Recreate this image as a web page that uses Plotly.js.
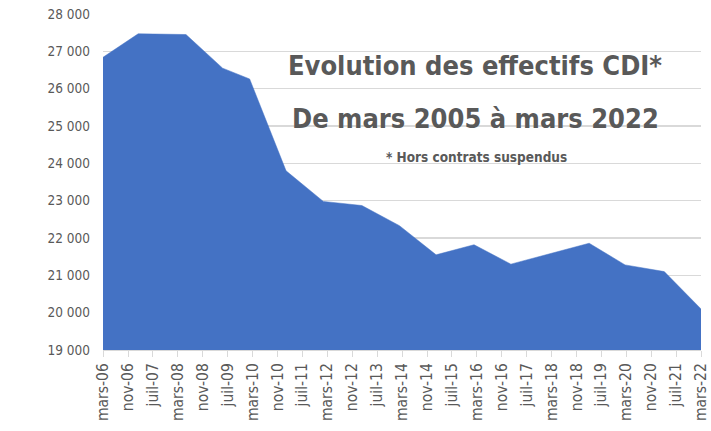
<!DOCTYPE html>
<html>
<head>
<meta charset="utf-8">
<script src="https://cdn.plot.ly/plotly-3.0.1.min.js"></script>
<style>html,body{margin:0;padding:0;background:#fff}#chart{width:711px;height:431px}</style>
</head>
<body>
<div id="chart"></div>
<script>
// Data points (dates estimated from positions on the Excel date axis)
const dates = ['2006-03-01','2007-02-08','2008-05-20','2009-05-13','2010-02-01','2011-01-23','2012-01-22','2013-02-02','2014-02-04','2015-01-28','2016-02-03','2017-01-28','2019-03-04','2020-02-18','2021-03-07','2022-03-01'];
const effectifs = [26840, 27470, 27450, 26550, 26260, 23800, 22980, 22870, 22330, 21550, 21820, 21300, 21860, 21280, 21100, 20100];

// Axis ticks
const tickDates = ['2006-03-01','2006-11-01','2007-07-01','2008-03-01','2008-11-01','2009-07-01','2010-03-01','2010-11-01','2011-07-01','2012-03-01','2012-11-01','2013-07-01','2014-03-01','2014-11-01','2015-07-01','2016-03-01','2016-11-01','2017-07-01','2018-03-01','2018-11-01','2019-07-01','2020-03-01','2020-11-01','2021-07-01','2022-03-01'];
const tickLabels = ['mars-06','nov-06','juil-07','mars-08','nov-08','juil-09','mars-10','nov-10','juil-11','mars-12','nov-12','juil-13','mars-14','nov-14','juil-15','mars-16','nov-16','juil-17','mars-18','nov-18','juil-19','mars-20','nov-20','juil-21','mars-22'];

const titleLine1 = 'Evolution des effectifs CDI*';
const titleLine2 = 'De mars 2005 à mars 2022';
const subtitle = '* Hors contrats suspendus';

const FONT = '"DejaVu Sans Condensed", "Liberation Sans Narrow", Arial, sans-serif';

const trace = {
  x: dates, y: effectifs, type: 'scatter', mode: 'lines',
  fill: 'tozeroy', fillcolor: '#4472C4',
  line: {color: '#4472C4', width: 0.5}, hoverinfo: 'x+y'
};

const layout = {
  width: 711, height: 431,
  margin: {l: 103, r: 10, t: 14, b: 81},
  paper_bgcolor: '#fff', plot_bgcolor: '#fff',
  separators: ', ',
  showlegend: false,
  font: {family: FONT, color: '#595959'},
  xaxis: {
    type: 'date', range: ['2006-03-01', '2022-03-01'],
    tickmode: 'array', tickvals: tickDates, ticktext: tickLabels,
    tickangle: -90, tickfont: {size: 15.5, color: '#595959', family: FONT},
    ticks: 'outside', ticklen: 6, tickcolor: '#D9D9D9',
    showline: true, linecolor: '#D9D9D9', linewidth: 1,
    showgrid: false, zeroline: false
  },
  yaxis: {
    range: [19000, 28000], dtick: 1000, tick0: 19000, tickformat: ',d',
    tickfont: {size: 13.5, color: '#595959', family: FONT},
    showgrid: true, gridcolor: '#D9D9D9', gridwidth: 1.5,
    zeroline: false, showline: false, ticks: '', ticklabelstandoff: 12
  },
  annotations: [
    {xref: 'paper', yref: 'paper', x: (475-103)/598, y: 1-(65-14)/336, text: '<b>' + titleLine1 + '</b>', showarrow: false, font: {size: 27, color: '#595959', family: FONT}, xanchor: 'center', yanchor: 'middle'},
    {xref: 'paper', yref: 'paper', x: (475-103)/598, y: 1-(118-14)/336, text: '<b>' + titleLine2 + '</b>', showarrow: false, font: {size: 27, color: '#595959', family: FONT}, xanchor: 'center', yanchor: 'middle'},
    {xref: 'paper', yref: 'paper', x: (476-103)/598, y: 1-(157-14)/336, text: '<b>' + subtitle + '</b>', showarrow: false, font: {size: 13.5, color: '#595959', family: FONT}, xanchor: 'center', yanchor: 'middle'}
  ]
};

Plotly.newPlot('chart', [trace], layout, {displayModeBar: false, staticPlot: true});
</script>
</body>
</html>
